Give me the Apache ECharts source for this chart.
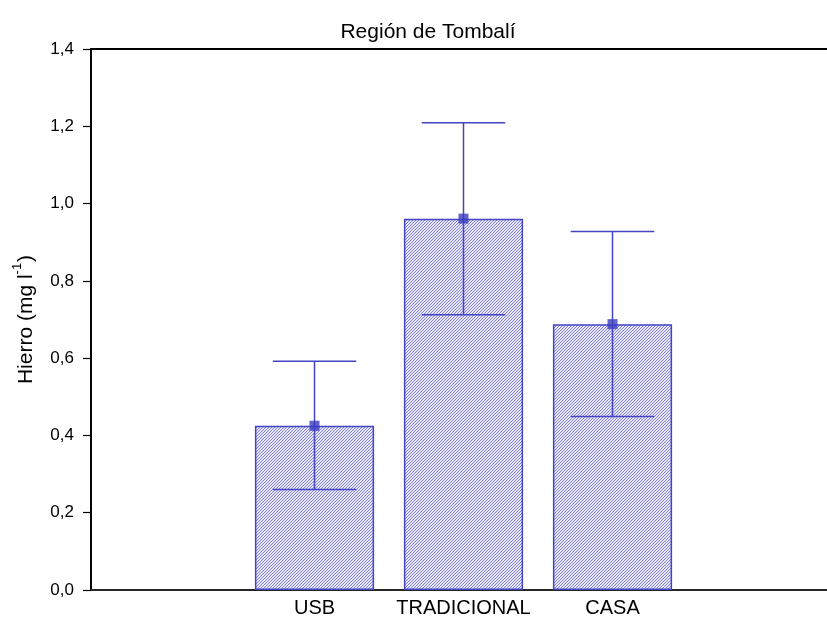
<!DOCTYPE html>
<html>
<head>
<meta charset="utf-8">
<script src="https://cdn.jsdelivr.net/npm/echarts@6/dist/echarts.min.js"></script>
<style>
html,body{margin:0;padding:0;background:#fff;overflow:hidden;}
#chart{width:836px;height:623px;}
</style>
</head>
<body>
<div id="chart"></div>
<script>
// Data
const categories = ['', 'USB', 'TRADICIONAL', 'CASA', ''];
const means = [null, 0.425, 0.961, 0.688, null];
const upperErr = [null, 0.592, 1.209, 0.928, null];
const lowerErr = [null, 0.260, 0.712, 0.449, null];
const titleText = 'Región de Tombalí';

// hatch pattern
function makeHatch() {
  const c = document.createElement('canvas');
  c.width = 3; c.height = 3;
  const ctx = c.getContext('2d');
  ctx.fillStyle = '#e8e8f9';
  ctx.fillRect(0, 0, 3, 3);
  ctx.fillStyle = '#8080da';
  for (let i = 0; i < 3; i++) {
    ctx.fillRect(2 - i, i, 1, 1);
  }
  return c;
}

const errData = [];
const meanData = [];
for (let i = 0; i < categories.length; i++) {
  if (means[i] != null) {
    errData.push([i, lowerErr[i], upperErr[i]]);
    meanData.push([i, means[i]]);
  }
}

const blue = '#4343c4';
const font = 'Liberation Sans, Arial, sans-serif';
const chart = echarts.init(document.getElementById('chart'), null, {renderer: 'canvas'});
chart.setOption({
  animation: false,
  backgroundColor: '#fff',
  title: {
    text: titleText,
    left: 423,
    top: 17,
    textAlign: 'center',
    textStyle: {fontFamily: font, fontSize: 21, fontWeight: 'normal', color: '#000'}
  },
  grid: {
    left: 91, top: 49, right: 0, height: 541,
    show: true, borderColor: '#000', borderWidth: 1.8, backgroundColor: 'transparent'
  },
  xAxis: {
    type: 'category',
    data: categories,
    boundaryGap: true,
    axisLine: {lineStyle: {color: '#333', width: 1.5}},
    axisTick: {show: false},
    axisLabel: {
      interval: 0,
      margin: 8,
      color: '#000',
      fontFamily: font,
      fontSize: 20
    },
    splitLine: {show: false}
  },
  yAxis: {
    type: 'value',
    min: 0, max: 1.4, interval: 0.2,
    axisLine: {show: true, lineStyle: {color: '#000', width: 1.5}},
    axisTick: {show: true, inside: false, length: 8, lineStyle: {color: '#000', width: 1.2}},
    axisLabel: {
      margin: 17,
      color: '#000',
      fontFamily: font,
      fontSize: 17,
      formatter: v => v.toFixed(1).replace('.', ',')
    },
    splitLine: {show: false},
    name: '{b|Hierro (mg l}{s|-1}{b|)}',
    nameLocation: 'middle',
    nameGap: 54,
    nameRotate: 90,
    nameTextStyle: {
      color: '#000',
      rich: {
        b: {fontFamily: font, fontSize: 21, color: '#000', lineHeight: 26, verticalAlign: 'bottom'},
        s: {fontFamily: font, fontSize: 13, color: '#000', lineHeight: 26, verticalAlign: 'top', padding: [0, 1, 0, 0]}
      }
    }
  },
  series: [
    {
      type: 'bar',
      data: means,
      barWidth: '80%',
      itemStyle: {
        color: {image: makeHatch(), repeat: 'repeat'},
        borderColor: blue,
        borderWidth: 1.5
      },
      z: 2
    },
    {
      type: 'custom',
      data: errData,
      z: 3,
      renderItem: function (params, api) {
        const x = api.value(0);
        const lo = api.coord([x, api.value(1)]);
        const hi = api.coord([x, api.value(2)]);
        const half = api.size([1, 0])[0] * 0.28;
        const style = {stroke: blue, lineWidth: 1.5};
        return {
          type: 'group',
          children: [
            {type: 'line', shape: {x1: lo[0], y1: lo[1], x2: hi[0], y2: hi[1]}, style: style},
            {type: 'line', shape: {x1: hi[0] - half, y1: hi[1], x2: hi[0] + half, y2: hi[1]}, style: style},
            {type: 'line', shape: {x1: lo[0] - half, y1: lo[1], x2: lo[0] + half, y2: lo[1]}, style: style}
          ]
        };
      }
    },
    {
      type: 'scatter',
      data: meanData,
      symbol: 'rect',
      symbolSize: 10,
      itemStyle: {color: '#3b3bbf'},
      z: 4
    }
  ]
});
</script>
</body>
</html>
